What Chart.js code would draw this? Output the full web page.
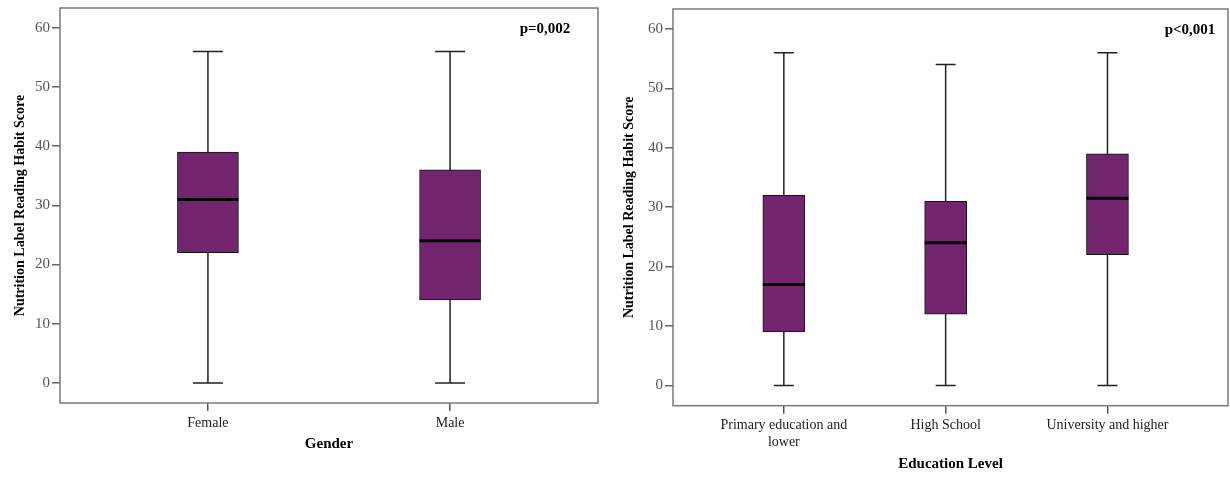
<!DOCTYPE html>
<html>
<head>
<meta charset="utf-8">
<script src="https://cdn.jsdelivr.net/npm/chart.js@4/dist/chart.umd.min.js"></script>
<style>
  html, body { margin: 0; padding: 0; background: #fff; }
  #wrap { position: relative; width: 1230px; height: 477px; }
  .panel { position: absolute; top: 0; height: 477px; }
</style>
</head>
<body>
<div id="wrap">
  <div class="panel" style="left:0;width:605px"><canvas id="left"></canvas></div>
  <div class="panel" style="left:605px;width:625px"><canvas id="right"></canvas></div>
</div>
<script>
const yTicks = [0, 10, 20, 30, 40, 50, 60]

const genderLabels = ["Female", "Male"]
const genderMin = [0, 0]
const genderQ1 = [22, 14]
const genderMedian = [31, 24]
const genderQ3 = [39, 36]
const genderMax = [56, 56]

const eduLabels = [["Primary education and", "lower"], "High School", "University and higher"]
const eduMin = [0, 0, 0]
const eduQ1 = [9, 12, 22]
const eduMedian = [17, 24, 31.5]
const eduQ3 = [32, 31, 39]
const eduMax = [56, 54, 56]

const FILL = "#72246F"
const SERIF = "'Liberation Serif', 'Times New Roman', serif"

// whiskers, medians, frame and p-value drawn from the chart's own scales
const boxPlugin = {
  id: "boxParts",
  beforeDatasetsDraw(chart) {
    const o = chart.options.plugins.boxParts
    const { ctx, scales: { x, y } } = chart
    ctx.save()
    ctx.strokeStyle = "#222"
    ctx.lineWidth = 1.5
    o.min.forEach((lo, i) => {
      const cx = x.getPixelForValue(i)
      const yLo = y.getPixelForValue(lo), yHi = y.getPixelForValue(o.max[i])
      ctx.beginPath()
      ctx.moveTo(cx, yLo); ctx.lineTo(cx, yHi)
      ctx.moveTo(cx - o.cap / 2, yLo); ctx.lineTo(cx + o.cap / 2, yLo)
      ctx.moveTo(cx - o.cap / 2, yHi); ctx.lineTo(cx + o.cap / 2, yHi)
      ctx.stroke()
    })
    ctx.restore()
  },
  afterDatasetsDraw(chart) {
    const o = chart.options.plugins.boxParts
    const { ctx, scales: { y } } = chart
    const meta = chart.getDatasetMeta(0)
    ctx.save()
    ctx.strokeStyle = "#000"
    ctx.lineWidth = 3
    o.median.forEach((m, i) => {
      const bar = meta.data[i]
      const ym = y.getPixelForValue(m)
      ctx.beginPath()
      ctx.moveTo(bar.x - bar.width / 2, ym); ctx.lineTo(bar.x + bar.width / 2, ym)
      ctx.stroke()
    })
    ctx.restore()
  },
  afterDraw(chart) {
    const o = chart.options.plugins.boxParts
    const { ctx, chartArea: a } = chart
    ctx.save()
    ctx.strokeStyle = "#7a7a7a"
    ctx.lineWidth = 1.5
    ctx.strokeRect(a.left, a.top, a.right - a.left, a.bottom - a.top)
    ctx.fillStyle = "#000"
    ctx.font = "bold 15px " + SERIF
    ctx.textAlign = "center"
    ctx.textBaseline = "middle"
    ctx.fillText(o.pText, a.right - o.pDx, a.top + 21)
    ctx.restore()
  }
}

function makeBox(id, labels, mins, q1, med, q3, maxs, cfg) {
  new Chart(document.getElementById(id), {
    type: "bar",
    data: {
      datasets: [{
        data: labels.map((_, i) => ({ x: i, y: [q1[i], q3[i]] })),
        backgroundColor: FILL,
        borderColor: "#111",
        borderWidth: 1,
        borderSkipped: false,
        barThickness: cfg.boxWidth
      }]
    },
    options: {
      responsive: true,
      maintainAspectRatio: false,
      animation: false,
      layout: { padding: { top: cfg.top, right: cfg.right, left: 0, bottom: 0 } },
      plugins: {
        legend: { display: false },
        tooltip: { enabled: false },
        boxParts: { min: mins, max: maxs, median: med, cap: cfg.cap, pText: cfg.pText, pDx: cfg.pDx }
      },
      scales: {
        x: {
          type: "linear",
          offset: false,
          min: cfg.xMin,
          max: cfg.xMax,
          afterBuildTicks: s => { s.ticks = labels.map((_, i) => ({ value: i })) },
          afterFit: s => { s.height = cfg.xHeight; s.paddingLeft = 0; s.paddingRight = 0 },
          grid: { offset: false, drawOnChartArea: false, tickLength: 8, color: "#555", lineWidth: 1.5 },
          border: { display: false },
          ticks: {
            color: "#222",
            padding: 4,
            autoSkip: false,
            maxRotation: 0,
            font: { family: SERIF, size: 14, lineHeight: 1.15 },
            callback: v => labels[v]
          },
          title: {
            display: true,
            text: cfg.xTitle,
            color: "#000",
            font: { family: SERIF, size: 15, weight: "bold" },
            padding: { top: 8, bottom: cfg.xTitlePad }
          }
        },
        y: {
          min: -3.4,
          max: 63.35,
          afterBuildTicks: s => { s.ticks = yTicks.map(v => ({ value: v })) },
          afterFit: s => { s.width = cfg.yWidth; s.paddingTop = 0; s.paddingBottom = 0 },
          grid: { drawOnChartArea: false, tickLength: 8, color: "#666", lineWidth: 1.5 },
          border: { display: false },
          ticks: {
            color: "#555",
            padding: 2,
            font: { family: SERIF, size: 15 }
          },
          title: {
            display: true,
            text: "Nutrition Label Reading Habit Score",
            color: "#000",
            font: { family: SERIF, size: 14, weight: "bold" },
            padding: { top: cfg.yTitlePad, bottom: 0 }
          }
        }
      }
    },
    plugins: [boxPlugin]
  })
}

makeBox("left", genderLabels, genderMin, genderQ1, genderMedian, genderQ3, genderMax, {
  top: 8, right: 7, yWidth: 60, xHeight: 74, xMin: -0.611, xMax: 1.611,
  boxWidth: 61, cap: 30, xTitle: "Gender", xTitlePad: 24, yTitlePad: 12,
  pText: "p=0,002", pDx: 53
})

makeBox("right", eduLabels, eduMin, eduQ1, eduMedian, eduQ3, eduMax, {
  top: 9, right: 2, yWidth: 68, xHeight: 71.3, xMin: -0.685, xMax: 2.745,
  boxWidth: 42, cap: 20, xTitle: "Education Level", xTitlePad: 4, yTitlePad: 16,
  pText: "p<0,001", pDx: 38
})
</script>
</body>
</html>
